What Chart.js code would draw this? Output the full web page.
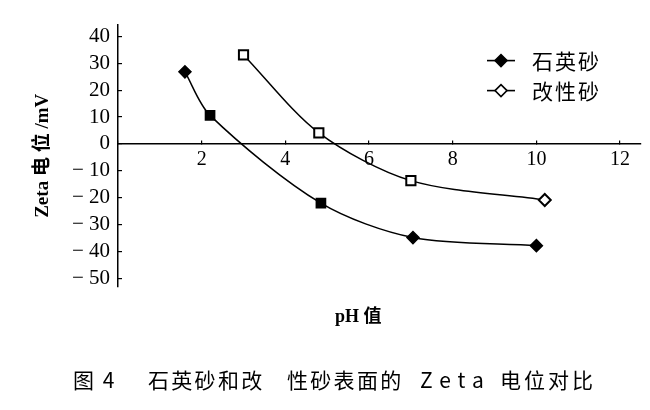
<!DOCTYPE html>
<html>
<head>
<meta charset="utf-8">
<script src="https://cdn.jsdelivr.net/npm/chart.js@4/dist/chart.umd.min.js"></script>
<style>
html, body { margin: 0; padding: 0; background: #fff; }
#wrap { width: 650px; height: 410px; }
</style>
</head>
<body>
<div id="wrap"><canvas id="grafico-zeta"></canvas></div>
<script>
// dados
const seriesNames = ['石英砂', '改性砂'];
const quartzPH = [1.6, 2.2, 4.85, 7.05, 10.0];
const quartzZeta = [26.8, 10.6, -22.1, -34.9, -37.9];
const quartzMarks = ['rectRot', 'rect', 'rect', 'rectRot', 'rectRot'];
const modPH = [3.0, 4.8, 7.0, 10.2];
const modZeta = [33.1, 4.1, -13.7, -20.9];
const modMarks = ['rect', 'rect', 'rect', 'rectRot'];
const xTicks = [0, 2, 4, 6, 8, 10, 12];
const yTicks = [-50, -40, -30, -20, -10, 0, 10, 20, 30, 40];
const xAxisTitle = 'pH 值';
const yAxisTitle = 'Zeta 电 位 /mV';
// legenda da figura, em pedaços com o mesmo espaçamento do original
const captionParts = [
    { text: '图 4', x: 73, spacing: 2 },
    { text: '石英砂和改', x: 148, spacing: 2.3 },
    { text: '性砂表面的', x: 287, spacing: 2.3 },
    { text: 'Zeta', x: 420, spacing: 7 },
    { text: '电位对比', x: 500, spacing: 3 }
];

const serif = '"Liberation Serif", "Times New Roman", "Noto Sans CJK SC", serif';
const sans = '"Noto Sans CJK SC", "Noto Sans", sans-serif';

function toPoints(xs, ys) {
    return xs.map((x, i) => ({ x: x, y: ys[i] }));
}
function radiusFor(marks) {
    return marks.map(m => m === 'rect' ? 6.5 : 6);
}

// legenda dentro do gráfico, título do eixo x e legenda da figura
const textosExtras = {
    id: 'textosExtras',
    afterDraw(chart) {
        const ctx = chart.ctx;
        const area = chart.chartArea;
        ctx.save();
        chart.data.datasets.forEach((ds, i) => {
            const y = area.top + 36 + i * 30;
            const x0 = area.right - 154;
            ctx.strokeStyle = '#000';
            ctx.lineWidth = 1.6;
            ctx.beginPath();
            ctx.moveTo(x0, y);
            ctx.lineTo(x0 + 28, y);
            ctx.stroke();
            ctx.fillStyle = ds.pointBackgroundColor;
            Chart.helpers.drawPoint(ctx, { pointStyle: 'rectRot', radius: 6, borderWidth: 1.6, rotation: 0 }, x0 + 14, y);
            ctx.fillStyle = '#000';
            ctx.font = '21px ' + sans;
            ctx.letterSpacing = '2px';
            ctx.textAlign = 'left';
            ctx.textBaseline = 'middle';
            ctx.fillText(ds.label, area.right - 109, y);
        });
        ctx.letterSpacing = '0px';
        ctx.font = 'bold 18px ' + serif;
        ctx.textAlign = 'left';
        ctx.textBaseline = 'middle';
        ctx.fillStyle = '#000';
        ctx.fillText(xAxisTitle, 335, area.bottom + 30);

        ctx.font = '21px ' + sans;
        captionParts.forEach(p => {
            ctx.letterSpacing = p.spacing + 'px';
            ctx.fillText(p.text, p.x, 380);
        });
        ctx.restore();
    }
};

const ctx = document.getElementById('grafico-zeta').getContext('2d');
new Chart(ctx, {
    type: 'line',
    data: {
        datasets: [
            {
                label: seriesNames[0],
                data: toPoints(quartzPH, quartzZeta),
                borderColor: '#000',
                borderWidth: 1.5,
                pointStyle: quartzMarks,
                pointRadius: radiusFor(quartzMarks),
                pointBackgroundColor: '#000',
                pointBorderColor: '#000',
                pointBorderWidth: 1.5,
                tension: 0.3,
                fill: false
            },
            {
                label: seriesNames[1],
                data: toPoints(modPH, modZeta),
                borderColor: '#000',
                borderWidth: 1.5,
                pointStyle: modMarks,
                pointRadius: radiusFor(modMarks),
                pointBackgroundColor: '#fff',
                pointBorderColor: '#000',
                pointBorderWidth: 2,
                tension: 0.3,
                fill: false
            }
        ]
    },
    options: {
        responsive: true,
        maintainAspectRatio: false,
        animation: false,
        layout: { padding: { left: 28, right: 9, top: 21, bottom: 123 } },
        plugins: {
            legend: { display: false },
            tooltip: { enabled: false }
        },
        scales: {
            x: {
                type: 'linear',
                position: { y: 0 },
                min: 0,
                max: 12.5,
                afterBuildTicks: (scale) => { scale.ticks = xTicks.map(v => ({ value: v })); },
                border: { display: true, color: '#000', width: 1.5 },
                grid: { drawOnChartArea: false, tickLength: -4, color: '#000', lineWidth: 1.2 },
                ticks: {
                    color: '#000',
                    padding: 8,
                    maxRotation: 0,
                    font: { family: serif, size: 20 },
                    callback: (v) => v === 0 ? '' : String(v)
                }
            },
            y: {
                type: 'linear',
                position: 'left',
                min: -53.3,
                max: 44.4,
                afterBuildTicks: (scale) => { scale.ticks = yTicks.map(v => ({ value: v })); },
                afterFit: (scale) => { scale.width = 90; },
                border: { display: true, color: '#000', width: 1.5 },
                grid: { drawOnChartArea: false, tickLength: -4, color: '#000', lineWidth: 1.2 },
                ticks: {
                    color: '#000',
                    padding: 12,
                    font: { family: serif, size: 21 },
                    callback: (v) => v < 0 ? '\u2212 ' + Math.abs(v) : String(v)
                },
                title: {
                    display: true,
                    text: yAxisTitle,
                    color: '#000',
                    font: { family: serif, size: 19, weight: 'bold' },
                    padding: 4
                }
            }
        }
    },
    plugins: [textosExtras]
});
</script>
</body>
</html>
